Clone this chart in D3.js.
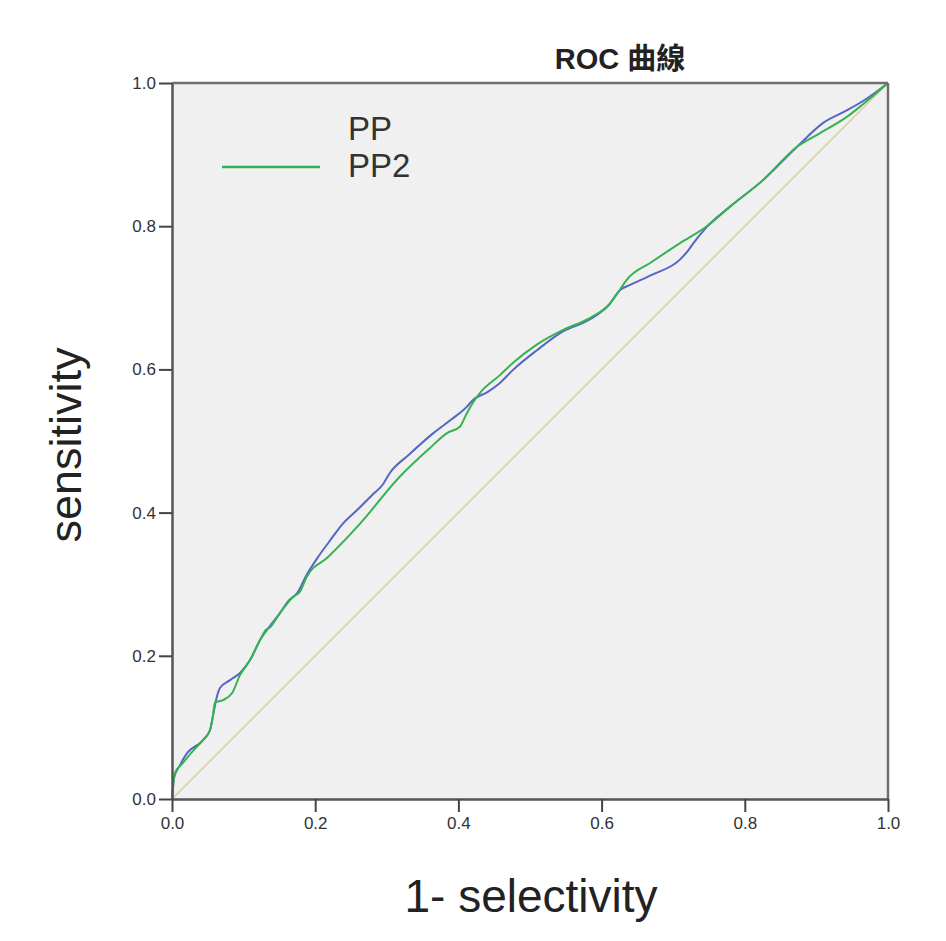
<!DOCTYPE html>
<html><head><meta charset="utf-8">
<script src="https://cdn.jsdelivr.net/npm/d3@7"></script>
<style>
html,body{margin:0;padding:0;background:#fff;}
text{font-family:"Liberation Sans",Arial,"Noto Sans CJK TC",sans-serif;}
</style></head>
<body>
<svg id="chart" width="946" height="941"></svg>
<script>
const title = "ROC 曲線";
const xLabel = "1- selectivity";
const yLabel = "sensitivity";
const tickValues = [0, 0.2, 0.4, 0.6, 0.8, 1.0];
const seriesNames = ["PP", "PP2"];

const ppFpr = [0,.003,.011,.021,.043,.053,.058,.062,.067,.081,.095,.109,.123,.137,.151,.162,.175,.188,.204,.22,.239,.26,.28,.295,.304,.33,.365,.39,.412,.42,.44,.458,.476,.51,.546,.584,.61,.626,.64,.67,.709,.72,.728,.747,.779,.825,.873,.909,.943,.97,1];
const ppTpr = [0,.03,.047,.064,.082,.096,.12,.14,.155,.166,.176,.194,.222,.242,.26,.276,.288,.313,.338,.36,.385,.405,.425,.44,.455,.48,.511,.53,.548,.557,.568,.581,.599,.627,.653,.67,.69,.711,.718,.732,.753,.765,.776,.799,.827,.864,.911,.944,.962,.978,1];

const pp2Fpr = [0,.004,.015,.03,.043,.053,.057,.06,.071,.084,.095,.109,.123,.131,.137,.151,.169,.179,.188,.218,.263,.318,.36,.384,.402,.412,.42,.43,.458,.476,.51,.546,.584,.61,.626,.635,.67,.709,.747,.779,.825,.873,.905,.943,.961,1];
const pp2Tpr = [0,.036,.05,.068,.082,.096,.115,.135,.138,.148,.173,.194,.222,.236,.24,.26,.282,.29,.31,.338,.385,.45,.49,.511,.52,.539,.553,.567,.592,.609,.635,.655,.672,.69,.712,.725,.75,.776,.80,.827,.864,.911,.93,.953,.967,1];

const svg = d3.select("#chart");
const L = 172, R = 888, T = 83, B = 799;
const x = d3.scaleLinear().domain([0,1]).range([L,R]);
const y = d3.scaleLinear().domain([0,1]).range([B,T]);

svg.append("rect").attr("x",L).attr("y",T).attr("width",R-L).attr("height",B-T).attr("fill","#f0f0f0");

svg.append("line").attr("x1",x(0)).attr("y1",y(0)).attr("x2",x(1)).attr("y2",y(1))
  .attr("stroke","#d8cf9c").attr("stroke-width",1.5);

const line = d3.line().x(d=>x(d[0])).y(d=>y(d[1])).curve(d3.curveMonotoneX);
const pp = ppFpr.map((v,i)=>[v,ppTpr[i]]);
const pp2 = pp2Fpr.map((v,i)=>[v,pp2Tpr[i]]);
svg.append("path").datum(pp).attr("d",line).attr("fill","none").attr("stroke","#5466c6").attr("stroke-width",2);
svg.append("path").datum(pp2).attr("d",line).attr("fill","none").attr("stroke","#35b350").attr("stroke-width",2);

svg.append("line").attr("x1",L).attr("x2",R).attr("y1",T).attr("y2",T).attr("stroke","#707070").attr("stroke-width",2.5);
svg.append("line").attr("x1",R).attr("x2",R).attr("y1",T).attr("y2",B).attr("stroke","#707070").attr("stroke-width",2.5);

const fmt = d3.format(".1f");
const xAxis = svg.append("g").attr("transform",`translate(0,${B})`)
  .call(d3.axisBottom(x).tickValues(tickValues).tickFormat(fmt).tickSize(13).tickSizeOuter(0));
const yAxis = svg.append("g").attr("transform",`translate(${L},0)`)
  .call(d3.axisLeft(y).tickValues(tickValues).tickFormat(fmt).tickSize(13).tickSizeOuter(0));
[xAxis,yAxis].forEach(g=>{
  g.attr("font-size",17);
  g.select(".domain").attr("stroke","#555").attr("stroke-width",2.5);
  g.selectAll(".tick line").attr("stroke","#444").attr("stroke-width",2);
  g.selectAll(".tick text").attr("fill","#333")
   .style("font-size","17px").style("font-family",'"Liberation Sans",Arial,sans-serif');
});
xAxis.selectAll(".tick text").attr("dy","0.71em").attr("y",18);
yAxis.selectAll(".tick text").attr("x",-16);

svg.append("text").attr("x",620).attr("y",69).attr("text-anchor","middle")
  .attr("font-size",29).attr("font-weight","bold").attr("fill","#222").text(title);

svg.append("text").attr("x",531).attr("y",912).attr("text-anchor","middle")
  .attr("font-size",46).attr("fill","#222").text(xLabel);
svg.append("text").attr("transform","translate(81,445) rotate(-90)").attr("text-anchor","middle")
  .attr("font-size",45).attr("fill","#222").text(yLabel);

svg.append("text").attr("x",348).attr("y",140).attr("font-size",33).attr("fill","#333").text(seriesNames[0]);
svg.append("line").attr("x1",222).attr("x2",320).attr("y1",167).attr("y2",167).attr("stroke","#35b350").attr("stroke-width",2.5);
svg.append("text").attr("x",348).attr("y",177).attr("font-size",33).attr("fill","#333").text(seriesNames[1]);
</script>
</body></html>
